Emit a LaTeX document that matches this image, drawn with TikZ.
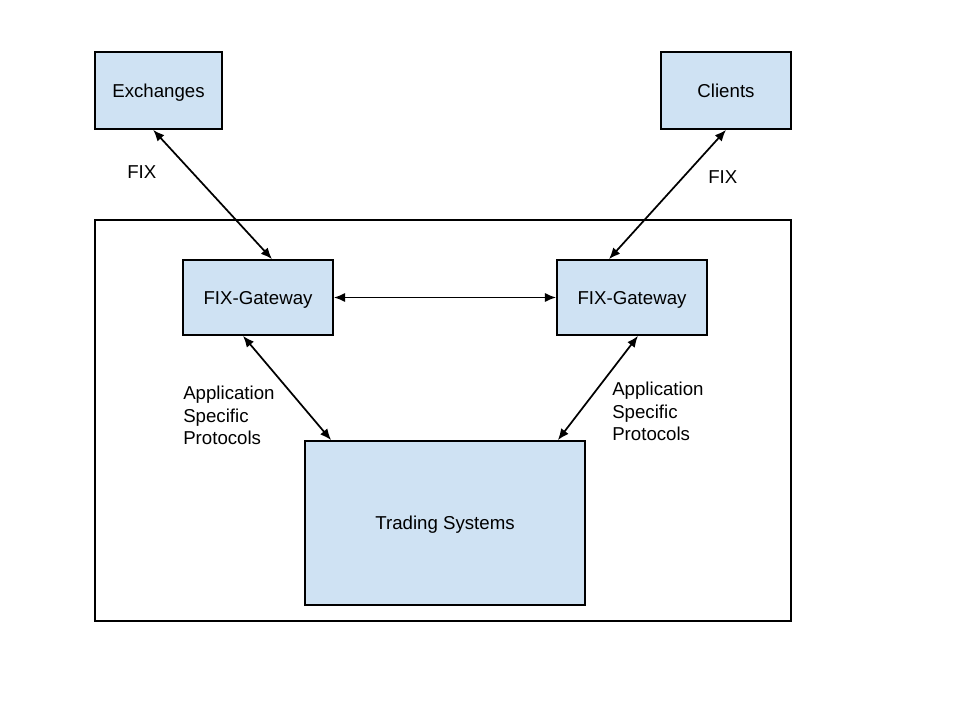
\documentclass[tikz,border=0pt]{standalone}
\usepackage{fontspec}
\setmainfont{Liberation Sans}
\usetikzlibrary{positioning,arrows.meta,calc}
\definecolor{boxblue}{HTML}{CFE2F3}

\begin{document}
\begin{tikzpicture}[
  x=0.75pt, y=-0.75pt,
  >={Latex[length=8.5pt,width=7pt]},
  box/.style={draw, line width=1.3pt, fill=boxblue, align=center, inner sep=2pt, text height=10pt, text depth=0pt, font=\fontsize{14}{17}\selectfont},
  line/.style={<->, line width=1.3pt},
  lbl/.style={align=left, anchor=west, inner sep=0pt, font=\fontsize{14}{17}\selectfont},
]
\useasboundingbox (0,0) rectangle (960,720);

% === system frame ===
\node[draw, line width=1.3pt, minimum width=522pt, minimum height=300.75pt, inner sep=0pt] (sys) at (443,420.5) {};

% === external parties ===
\node[box, minimum width=95.25pt, minimum height=57.75pt] (exch) at (158.5,90.5) {Exchanges};
\node[box, minimum width=97.5pt, minimum height=57.75pt] (clients) at (726,90.5) {Clients};

% === gateways ===
\node[box, minimum width=112.5pt, minimum height=56.25pt] (gwl) at (258,297.5) {FIX-Gateway};
\node[box, minimum width=112.5pt, minimum height=56.25pt] (gwr) at (632,297.5) {FIX-Gateway};

% === back end ===
\node[box, minimum width=210pt, minimum height=123pt] (trading) at (445,523) {Trading Systems};

% === links ===
\draw[line] ([xshift=-4pt]exch.south) -- ([xshift=10.5pt]gwl.north);
\draw[line] (clients.south) -- ([xshift=-17.25pt]gwr.north);
\draw[line] (gwl.east) -- (gwr.west);
\draw[line] ([xshift=-11.25pt]gwl.south) -- ([xshift=20.25pt]trading.north west);
\draw[line] ([xshift=4.5pt]gwr.south) -- ([xshift=-21pt]trading.north east);

% === labels ===
\node[lbl] (fixl) at (127,172) {FIX};
\node[lbl] (fixr) at (708,177) {FIX};
\node[lbl] (aspl) at (183,415.5) {Application\\Specific\\Protocols};
\node[lbl] (aspr) at (612,411.5) {Application\\Specific\\Protocols};

\end{tikzpicture}
\end{document}
